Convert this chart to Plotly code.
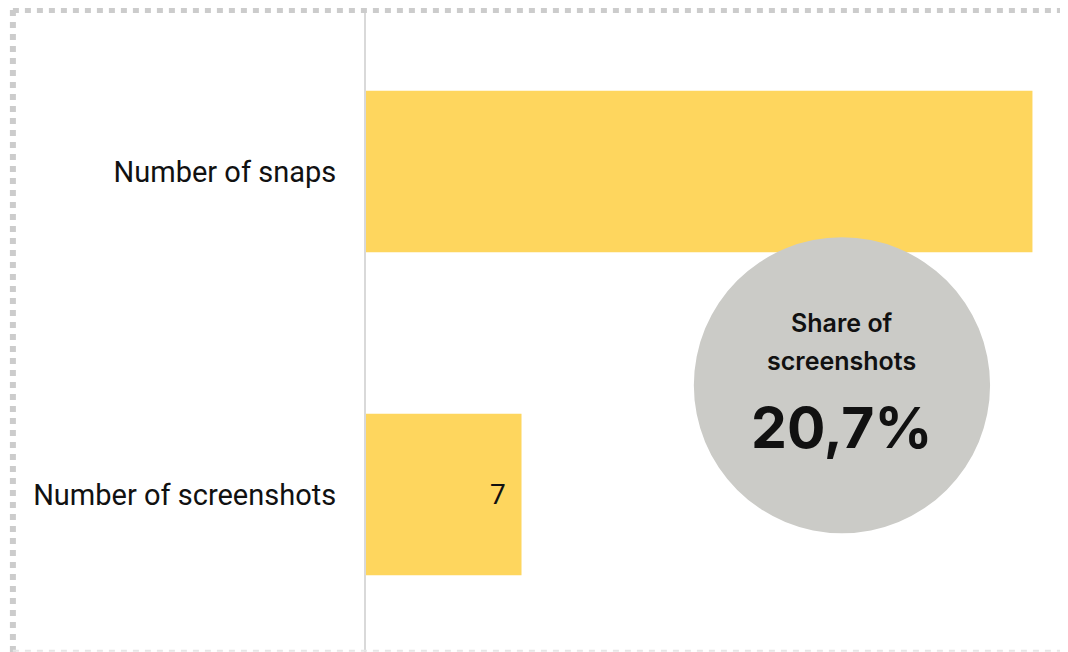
import plotly.graph_objects as go

# ============================================================
# DATA
# ============================================================
categories = ["Number of snaps", "Number of screenshots"]
counts = [30, 7]
labelled = [False, True]
share_title_lines = ["Share of", "screenshots"]
share_value = "20,7%"

BAR_COLOR = "#FED65E"
CIRCLE_COLOR = "#CBCBC7"
BORDER_COLOR = "#CCCCCC"

# page body adds an 8px margin, so the figure is shrunk by that much
PAGE_OFFSET = 8
PLOT_TOP, PLOT_H = 10, 642


def py(pixel_y):
    """page pixel row -> paper y"""
    return (PLOT_TOP + PLOT_H - pixel_y) / PLOT_H


# ============================================================
# FIGURE
# ============================================================
fig = go.Figure()

fig.add_trace(
    go.Bar(
        x=counts,
        y=categories,
        orientation="h",
        marker=dict(color=BAR_COLOR, line=dict(width=0)),
        textposition="none",
        hoverinfo="skip",
    )
)

# value label inside the end of the bar
for cat, val, show in zip(categories, counts, labelled):
    if show:
        fig.add_annotation(
            x=val, y=cat,
            text=str(val),
            showarrow=False,
            xanchor="right",
            yanchor="middle",
            xshift=-14,
            font=dict(family="Roboto", size=28, color="#111111"),
        )

# circle badge with share
fig.add_shape(
    type="circle",
    xref="paper", yref="paper",
    x0=0.467, x1=0.889, y0=0.185, y1=0.646,
    fillcolor=CIRCLE_COLOR,
    line=dict(width=0),
    layer="above",
)
for line_text, row in zip(share_title_lines, [323, 361]):
    fig.add_annotation(
        xref="paper", yref="paper",
        x=0.678, y=py(row),
        xanchor="center", yanchor="middle",
        text=line_text,
        showarrow=False,
        font=dict(family="Inter", size=25, color="#111111", weight=600),
    )
fig.add_annotation(
    xref="paper", yref="paper",
    x=0.678, y=py(427),
    xanchor="center", yanchor="middle",
    text=share_value,
    showarrow=False,
    font=dict(family="Inter", size=57, color="#111111", weight=700),
)

# dotted frame (top and left), light dashed bottom
fig.add_shape(
    type="line", xref="paper", yref="paper",
    x0=-0.503, x1=1.02, y0=1.0, y1=1.0,
    line=dict(color=BORDER_COLOR, width=6, dash="dot"),
)
fig.add_shape(
    type="line", xref="paper", yref="paper",
    x0=-0.503, x1=-0.503, y0=1.0, y1=0.0,
    line=dict(color=BORDER_COLOR, width=6, dash="dot"),
)
fig.add_shape(
    type="line", xref="paper", yref="paper",
    x0=-0.503, x1=1.02, y0=0.002, y1=0.002,
    line=dict(color="#E6E6E6", width=2, dash="6px,6px"),
)

fig.update_layout(
    width=1068 - PAGE_OFFSET,
    height=652 - PAGE_OFFSET,
    margin=dict(l=366 - PAGE_OFFSET, r=0, t=PLOT_TOP - PAGE_OFFSET, b=0),
    paper_bgcolor="white",
    plot_bgcolor="white",
    showlegend=False,
    bargap=0.5,
    font=dict(family="Roboto", color="#111111"),
)
fig.update_xaxes(
    range=[0, 31.6],
    showticklabels=False,
    showgrid=False,
    zeroline=False,
    showline=False,
)
fig.update_yaxes(
    categoryorder="array",
    categoryarray=categories,
    range=[1.488, -0.5],
    showgrid=False,
    zeroline=False,
    showline=True,
    linecolor="#D9D9D9",
    linewidth=2,
    ticks="",
    ticklabelstandoff=22,
    tickfont=dict(family="Roboto", size=29, color="#111111"),
)

fig.write_html("out.html")
